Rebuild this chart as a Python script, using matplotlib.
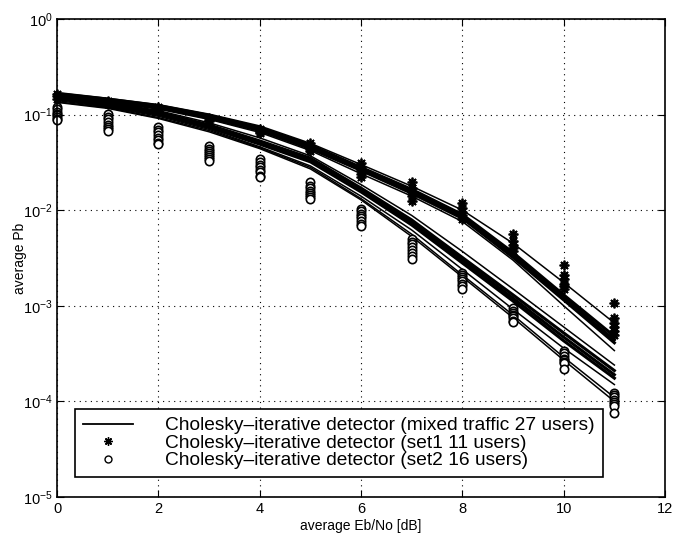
import matplotlib
matplotlib.use("Agg")
import matplotlib.pyplot as plt
from matplotlib.lines import Line2D

plt.rcParams['font.family'] = ['Liberation Sans', 'DejaVu Sans']

snr = [0, 1, 2, 3, 4, 5, 6, 7, 8, 9, 10, 11]

# mixed traffic 27 users: upper bundle
mix_u1 = [0.165, 0.145, 0.124, 0.098, 0.073, 0.048, 0.028, 0.0165, 0.0090, 0.0036, 0.00130, 4.8e-4]
mix_u2 = [0.160, 0.141, 0.121, 0.095, 0.070, 0.046, 0.027, 0.0158, 0.0086, 0.0034, 0.00122, 4.4e-4]
mix_u3 = [0.155, 0.138, 0.118, 0.092, 0.068, 0.044, 0.026, 0.0150, 0.0082, 0.0032, 0.00115, 4.1e-4]
mix_u4 = [0.170, 0.148, 0.127, 0.101, 0.076, 0.050, 0.030, 0.0178, 0.0100, 0.0045, 0.00175, 6.6e-4]
mix_u5 = [0.150, 0.134, 0.114, 0.089, 0.065, 0.042, 0.024, 0.0140, 0.0076, 0.0030, 0.00100, 3.4e-4]

# mixed traffic 27 users: lower bundle
mix_l1 = [0.160, 0.135, 0.110, 0.082, 0.057, 0.037, 0.0185, 0.0088, 0.0037, 0.00150, 6.0e-4, 2.4e-4]
mix_l2 = [0.155, 0.131, 0.106, 0.078, 0.053, 0.035, 0.0170, 0.0079, 0.0032, 0.00130, 5.2e-4, 2.1e-4]
mix_l3 = [0.150, 0.127, 0.103, 0.075, 0.051, 0.033, 0.0162, 0.0074, 0.0030, 0.00120, 4.7e-4, 1.9e-4]
mix_l4 = [0.146, 0.124, 0.100, 0.073, 0.049, 0.032, 0.0155, 0.0070, 0.0028, 0.00112, 4.3e-4, 1.75e-4]
mix_l5 = [0.140, 0.120, 0.096, 0.070, 0.046, 0.029, 0.0140, 0.0062, 0.0024, 0.00092, 3.6e-4, 1.5e-4]
mix_l6 = [0.136, 0.118, 0.093, 0.068, 0.045, 0.028, 0.0132, 0.0056, 0.0021, 0.00080, 2.9e-4, 1.1e-4]
mix_l7 = [0.134, 0.116, 0.091, 0.066, 0.044, 0.027, 0.0128, 0.0053, 0.0020, 0.00075, 2.7e-4, 1.0e-4]

thick_lines = [mix_u1, mix_u2, mix_u3, mix_l2, mix_l3, mix_l4]
thin_lines = [mix_u4, mix_u5, mix_l1, mix_l5, mix_l6, mix_l7]

# set1 11 users (stars), values at each snr
set1_pb = [
    [0.165, 0.155, 0.145],
    [0.14, 0.135, 0.13],
    [0.12, 0.115, 0.11],
    [0.093, 0.088, 0.085],
    [0.07, 0.066, 0.064],
    [0.051, 0.047, 0.044, 0.042],
    [0.031, 0.028, 0.026, 0.024, 0.022],
    [0.0195, 0.017, 0.0155, 0.014, 0.0125],
    [0.0118, 0.0105, 0.0095, 0.0088, 0.008],
    [0.0056, 0.0048, 0.0043, 0.004, 0.0037],
    [0.0027, 0.0021, 0.0019, 0.0017, 0.0016, 0.0015],
    [0.00107, 0.00074, 0.00066, 0.0006, 0.00055, 0.0005],
]

# set2 16 users (circles)
set2_pb = [
    [0.12, 0.113, 0.107, 0.102, 0.098, 0.094, 0.09, 0.088],
    [0.102, 0.095, 0.089, 0.083, 0.078, 0.074, 0.07, 0.067],
    [0.074, 0.069, 0.065, 0.061, 0.057, 0.054, 0.051, 0.049],
    [0.047, 0.044, 0.042, 0.040, 0.038, 0.036, 0.034, 0.033],
    [0.034, 0.032, 0.030, 0.028, 0.026, 0.025, 0.023, 0.022],
    [0.0195, 0.018, 0.017, 0.016, 0.015, 0.0145, 0.0138, 0.013],
    [0.0104, 0.0098, 0.0092, 0.0087, 0.0082, 0.0077, 0.0072, 0.0068],
    [0.0050, 0.0047, 0.0044, 0.0041, 0.0038, 0.0036, 0.0033, 0.0031],
    [0.0022, 0.0021, 0.0020, 0.0019, 0.0018, 0.0017, 0.0016, 0.0015],
    [0.00094, 0.00089, 0.00085, 0.00081, 0.00078, 0.00074, 0.0007, 0.00067],
    [0.00034, 0.00032, 0.0003, 0.00028, 0.00027, 0.00026, 0.00025, 0.00022],
    [0.000122, 0.000116, 0.00011, 0.000104, 0.000099, 0.000094, 0.00009, 0.000076],
]

legend_labels = ["Cholesky\u2013iterative detector (mixed traffic 27 users)",
                 "Cholesky\u2013iterative detector (set1 11 users)",
                 "Cholesky\u2013iterative detector (set2 16 users)"]

fig = plt.figure(figsize=(6.8, 5.33), dpi=100)
ax = fig.add_axes([0.084, 0.0675, 0.894, 0.897])

for line in thick_lines:
    ax.plot(snr, line, color='k', lw=2.2)
for line in thin_lines:
    ax.plot(snr, line, color='k', lw=1.1)

for x, vals in zip(snr, set1_pb):
    ax.plot([x] * len(vals), vals, linestyle='none', marker=(8, 2, 0),
            markersize=7, mew=1.3, color='k', clip_on=False)
for x, vals in zip(snr, set2_pb):
    ax.plot([x] * len(vals), vals, linestyle='none', marker='o',
            markersize=6, mew=1.2, mfc='white', mec='k', clip_on=False)

ax.set_yscale('log')
ax.set_xlim(0, 12)
ax.set_ylim(1e-5, 1)
ax.set_xticks([0, 2, 4, 6, 8, 10, 12])
ax.minorticks_off()
ax.grid(True, color='k', linestyle=(0, (1, 4)), linewidth=0.8)
ax.tick_params(direction='in', top=True, right=True, labelsize=10.5, length=5)
for s in ax.spines.values():
    s.set_linewidth(1.2)

ax.set_xlabel("average Eb/No [dB]", fontsize=10, labelpad=2)
ax.set_ylabel("average Pb", fontsize=10)
ax.yaxis.set_label_coords(-0.05, 0.5)

handles = [Line2D([], [], color='k', lw=1.3),
           Line2D([], [], linestyle='none', marker=(8, 2, 0), markersize=6, mew=1.0, color='k'),
           Line2D([], [], linestyle='none', marker='o', markersize=5, mfc='white', mec='k')]
leg = ax.legend(handles, legend_labels, loc='lower left', bbox_to_anchor=(0.03, 0.042),
                borderaxespad=0, fontsize=13.8, handlelength=2.6, handletextpad=1.7,
                labelspacing=0.0, borderpad=0.4, fancybox=False, framealpha=1,
                edgecolor='k')
leg.get_frame().set_linewidth(1.2)

fig.savefig("out.png", dpi=100)
